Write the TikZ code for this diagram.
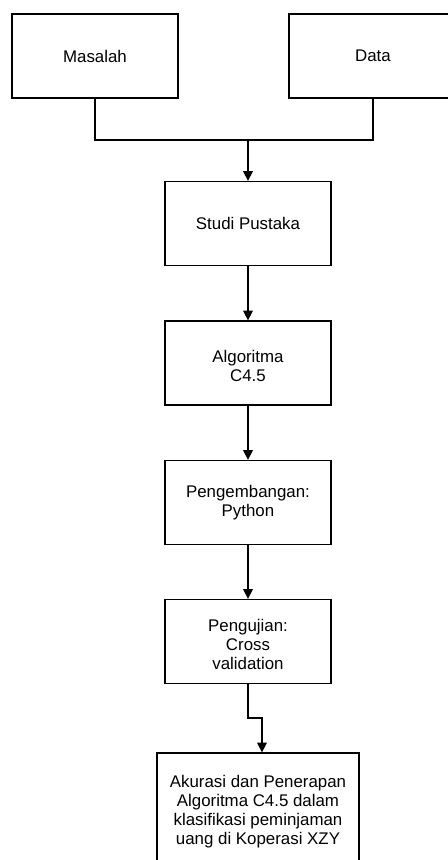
\documentclass[tikz,border=0pt]{standalone}
\usepackage{fontspec}
\setmainfont{Liberation Sans}
\usetikzlibrary{arrows.meta}
\usetikzlibrary{calc}

\begin{document}
\begin{tikzpicture}[x=0.02cm,y=-0.02cm]

		\def\boxw{166}
		\def\boxh{84}

		\tikzset{line/.style={draw,line width=0.75pt}}
		\tikzset{arrow/.style={line,-{Triangle[length=5.5pt,width=5.5pt]}}}
		\tikzset{box/.style={line,shape=rectangle,inner sep=0pt,align=center,minimum width=\boxw*0.02cm,minimum height=\boxh*0.02cm}}

		\tikzset{font=\fontsize{9.6}{10.8}\selectfont}

		\clip (0,0) rectangle (448,860);

		% Inputs.
		\node[box] (masalah) at (95,56) {Masalah};
		\node[box,minimum width=168*0.02cm] (data) at (373,56) {Data};

		% Steps.
		\node[box] (studi) at (248,223.5) {Studi Pustaka};
		\node[box] (algo) at (248,363) {\mbox{}\\Algoritma\\C4.5};
		\node[box] (kembang) at (248,502.5) {Pengembangan:\\Python};
		\node[box] (uji) at (248,641.5) {\mbox{}\\Pengujian:\\Cross\\validation};
		\node[box,minimum width=202*0.02cm,minimum height=117*0.02cm] (akurasi) at (258,811.5) {Akurasi dan Penerapan\\Algoritma C4.5 dalam\\klasifikasi peminjaman\\uang di Koperasi XZY};

		\coordinate (join) at (248,140);
		\coordinate (turn) at (262,718);

		\path[line] (masalah.south) |- (join) -| (data.south);
		\path[arrow] (join) to (studi.north);
		\path[arrow] (studi) to (algo);
		\path[arrow] (algo) to (kembang);
		\path[arrow] (kembang) to (uji);
		\path[arrow] (uji.south) |- (turn) -- (turn |- akurasi.north);

\end{tikzpicture}
\end{document}
